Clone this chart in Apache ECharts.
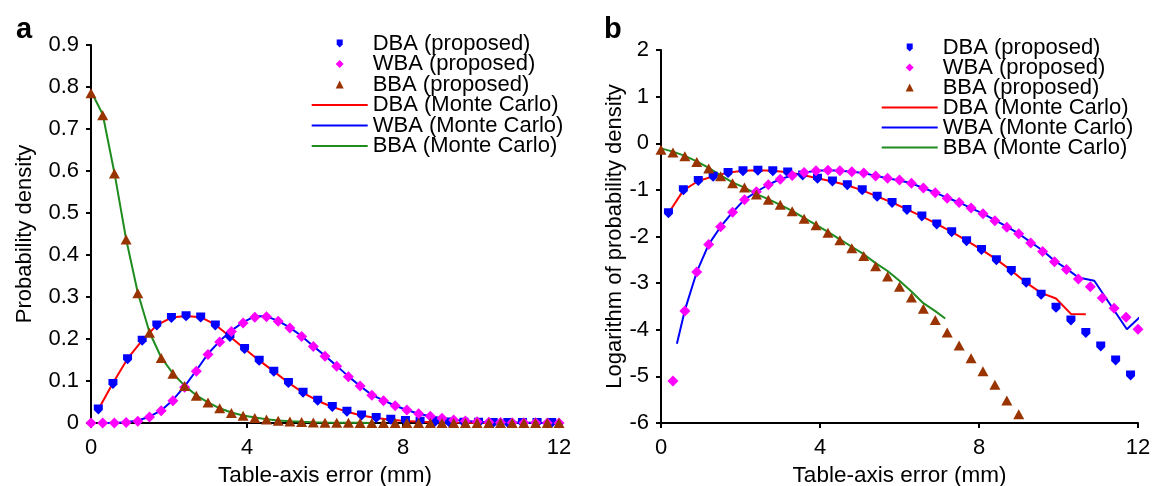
<!DOCTYPE html>
<html>
<head>
<meta charset="utf-8">
<script src="https://cdn.jsdelivr.net/npm/echarts@6/dist/echarts.min.js"></script>
<style>
  html, body { margin: 0; padding: 0; background: #fff; }
  #chart { width: 1156px; height: 486px; }
</style>
</head>
<body>
<div id="chart"></div>
<script>
// Table-axis error (mm): bin centres for DBA, 0.3 mm grid for WBA/BBA
const dbaX = [0.1875, 0.5625, 0.9375, 1.3125, 1.6875, 2.0625, 2.4375, 2.8125, 3.1875, 3.5625,
  3.9375, 4.3125, 4.6875, 5.0625, 5.4375, 5.8125, 6.1875, 6.5625, 6.9375, 7.3125,
  7.6875, 8.0625, 8.4375, 8.8125, 9.1875, 9.5625, 9.9375, 10.3125, 10.6875, 11.0625,
  11.4375, 11.8125];
const gridX = [0, 0.3, 0.6, 0.9, 1.2, 1.5, 1.8, 2.1, 2.4, 2.7, 3.0, 3.3, 3.6, 3.9, 4.2, 4.5,
  4.8, 5.1, 5.4, 5.7, 6.0, 6.3, 6.6, 6.9, 7.2, 7.5, 7.8, 8.1, 8.4, 8.7, 9.0, 9.3, 9.6,
  9.9, 10.2, 10.5, 10.8, 11.1, 11.4, 11.7, 12.0];

// (a) probability density, proposed model
const dbaDensity = [0.032, 0.093, 0.152, 0.196, 0.232, 0.250, 0.254, 0.251, 0.232, 0.205,
  0.176, 0.148, 0.122, 0.095, 0.072, 0.053, 0.038, 0.027, 0.018, 0.012,
  0.008, 0.005, 0.003, 0.002, 0.001, 0.0006, 0.0003, 0.0002, 0.0001, 0, 0, 0];
const wbaDensity = [0, 0, 0, 0.001, 0.004, 0.014, 0.029, 0.053, 0.085, 0.123, 0.163, 0.193,
  0.218, 0.238, 0.252, 0.253, 0.242, 0.226, 0.206, 0.182, 0.159, 0.135, 0.110, 0.088,
  0.066, 0.053, 0.041, 0.031, 0.022, 0.016, 0.0115, 0.0072, 0.0048, 0.0029, 0.0019,
  0.0012, 0.0008, 0.0005, 0.0003, 0.0002, 0.0001];
const bbaDensity = [0.785, 0.733, 0.594, 0.437, 0.309, 0.215, 0.155, 0.117, 0.088, 0.065,
  0.049, 0.035, 0.024, 0.017, 0.012, 0.0083, 0.0056, 0.0038, 0.0023, 0.0014, 0.0008,
  0.0005, 0.0003, 0.0002, 0.0001, 0, 0, 0, 0, 0, 0, 0, 0, 0, 0, 0, 0, 0, 0, 0, 0];

// (b) log10 of probability density, proposed model
const dbaLog = [-1.50, -1.01, -0.81, -0.72, -0.64, -0.60, -0.59, -0.60, -0.63, -0.69,
  -0.76, -0.82, -0.90, -1.01, -1.15, -1.28, -1.43, -1.57, -1.74, -1.91,
  -2.10, -2.29, -2.51, -2.74, -2.99, -3.25, -3.53, -3.80, -4.07, -4.36, -4.66, -4.98];
const wbaLog = [null, -5.10, -3.60, -2.76, -2.17, -1.79, -1.48, -1.21, -1.04, -0.89, -0.77,
  -0.69, -0.63, -0.59, -0.58, -0.59, -0.61, -0.64, -0.70, -0.75, -0.79, -0.86, -0.96,
  -1.06, -1.18, -1.27, -1.39, -1.51, -1.66, -1.80, -1.94, -2.14, -2.32, -2.54, -2.71,
  -2.91, -3.08, -3.32, -3.54, -3.73, -3.99];
const bbaLog = [-0.14, -0.20, -0.28, -0.40, -0.54, -0.71, -0.86, -0.95, -1.10, -1.21,
  -1.32, -1.46, -1.62, -1.76, -1.92, -2.08, -2.25, -2.42, -2.64, -2.86, -3.08, -3.31,
  -3.55, -3.79, -4.06, -4.34, -4.61, -4.89, -5.18, -5.52, -5.81];

// Monte Carlo curves
const mcDbaX = [0.1875, 0.5625, 0.9375, 1.3125, 1.6875, 2.0625, 2.4375, 2.8125, 3.1875, 3.5625,
  3.9375, 4.3125, 4.6875, 5.0625, 5.4375, 5.8125, 6.1875, 6.5625, 6.9375, 7.3125,
  7.6875, 8.0625, 8.4375, 8.8125, 9.1875, 9.5625, 9.9375, 10.3125, 10.6875];
const mcDbaDensity = [0.032, 0.095, 0.153, 0.197, 0.233, 0.251, 0.255, 0.252, 0.234, 0.206,
  0.177, 0.149, 0.123, 0.096, 0.072, 0.053, 0.038, 0.027, 0.018, 0.012,
  0.008, 0.005, 0.003, 0.002, 0.001, 0.0006, 0.0005, 0.0002, 0.0002];
const mcDbaLog = [-1.50, -1.01, -0.81, -0.71, -0.63, -0.59, -0.58, -0.59, -0.62, -0.68,
  -0.75, -0.82, -0.90, -1.01, -1.14, -1.27, -1.42, -1.57, -1.73, -1.90,
  -2.09, -2.28, -2.49, -2.73, -2.99, -3.21, -3.33, -3.66, -3.67];

const mcWbaX = [0.4, 0.6, 0.9, 1.2, 1.5, 1.8, 2.1, 2.4, 2.7, 3.0, 3.3, 3.6, 3.9, 4.2, 4.5,
  4.8, 5.1, 5.4, 5.7, 6.0, 6.3, 6.6, 6.9, 7.2, 7.5, 7.8, 8.1, 8.4, 8.7, 9.0, 9.3, 9.6,
  9.9, 10.2, 10.5, 10.9, 11.72, 12.08];
const mcWbaDensity = [0.0001, 0.0003, 0.002, 0.006, 0.015, 0.030, 0.055, 0.087, 0.125, 0.165,
  0.195, 0.220, 0.240, 0.254, 0.254, 0.243, 0.227, 0.207, 0.183, 0.160, 0.136, 0.111,
  0.088, 0.067, 0.054, 0.041, 0.031, 0.022, 0.016, 0.0115, 0.0076, 0.005, 0.003, 0.002,
  0.0013, 0.0011, 0.0001, 0.0002];
const mcWbaLog = [-4.30, -3.58, -2.76, -2.17, -1.79, -1.48, -1.21, -1.04, -0.89, -0.77,
  -0.69, -0.63, -0.59, -0.58, -0.59, -0.61, -0.64, -0.70, -0.75, -0.80, -0.86, -0.96,
  -1.06, -1.17, -1.27, -1.39, -1.51, -1.65, -1.79, -1.94, -2.12, -2.30, -2.52, -2.69,
  -2.88, -2.95, -3.99, -3.70];

const mcBbaX = [0, 0.3, 0.6, 0.9, 1.2, 1.5, 1.8, 2.1, 2.4, 2.7, 3.0, 3.3, 3.6, 3.9, 4.2,
  4.5, 4.8, 5.1, 5.4, 5.7, 6.0, 6.3, 6.6, 6.9, 7.15];
const mcBbaDensity = [0.790, 0.735, 0.596, 0.438, 0.310, 0.216, 0.156, 0.118, 0.089, 0.066,
  0.049, 0.035, 0.025, 0.018, 0.013, 0.0087, 0.006, 0.0042, 0.0027, 0.0018, 0.0011,
  0.0007, 0.0004, 0.0003, 0.0002];
const mcBbaLog = [-0.11, -0.18, -0.27, -0.39, -0.53, -0.69, -0.84, -0.95, -1.09, -1.20,
  -1.32, -1.45, -1.60, -1.75, -1.90, -2.06, -2.22, -2.38, -2.57, -2.74, -2.95, -3.18,
  -3.43, -3.60, -3.76];

const densityTicks = ['0', '0.1', '0.2', '0.3', '0.4', '0.5', '0.6', '0.7', '0.8', '0.9'];
const seriesNames = ['DBA (proposed)', 'WBA (proposed)', 'BBA (proposed)',
  'DBA (Monte Carlo)', 'WBA (Monte Carlo)', 'BBA (Monte Carlo)'];

const FONT = 'Liberation Sans, Arial, sans-serif';
const BLUE = '#0000ff', PINK = '#ff00ff', BROWN = '#993300';
const RED = '#ff0000', GREEN = '#1e8c1e';
const SHIELD = 'path://M0,0L8,0L8,5L4,9L0,5Z';

function pairs(xs, ys) {
  const out = [];
  for (let i = 0; i < ys.length; i++) {
    if (ys[i] !== null && ys[i] !== undefined) out.push([xs[i], ys[i]]);
  }
  return out;
}

function xAxisFor(gi) {
  return {
    gridIndex: gi, type: 'value', min: 0, max: 12, interval: 4,
    name: 'Table-axis error (mm)', nameLocation: 'middle', nameGap: 38,
    nameTextStyle: { fontFamily: FONT, fontSize: 22.5, color: '#000' },
    axisLine: { onZero: false, lineStyle: { color: '#000', width: 2 } },
    axisTick: { show: true, length: 5, lineStyle: { color: '#000', width: 2 } },
    axisLabel: { fontFamily: FONT, fontSize: 22, color: '#000', margin: 14 },
    splitLine: { show: false }
  };
}

function yAxisFor(gi, min, max, interval, name, gap, fmt) {
  return {
    gridIndex: gi, type: 'value', min: min, max: max, interval: interval,
    name: name, nameLocation: 'middle', nameGap: gap,
    nameTextStyle: { fontFamily: FONT, fontSize: 22, color: '#000' },
    axisLine: { show: true, onZero: false, lineStyle: { color: '#000', width: 2 } },
    axisTick: { show: true, length: 5, lineStyle: { color: '#000', width: 2 } },
    axisLabel: { fontFamily: FONT, fontSize: 22, color: '#000', margin: 12, formatter: fmt },
    splitLine: { show: false }
  };
}

function scatter(name, gi, data, symbol, size, color) {
  return {
    name: name, type: 'scatter', xAxisIndex: gi, yAxisIndex: gi, data: data,
    symbol: symbol, symbolSize: size, itemStyle: { color: color, opacity: 1 },
    z: 3, silent: true
  };
}

function line(name, gi, data, color) {
  return {
    name: name, type: 'line', xAxisIndex: gi, yAxisIndex: gi, data: data,
    symbol: 'none', showSymbol: false, clip: false, smooth: false,
    lineStyle: { color: color, width: 2 }, itemStyle: { color: color },
    z: 2, silent: true
  };
}

// legend glyphs: small markers and a plain stroke inside a 56x20 box
const legendIcons = [
  'path://M0,0M56,20M25,6L31,6L31,11L28,14L25,11Z',
  'path://M0,0M56,20M28,6L32,10L28,14L24,10Z',
  'path://M0,0M56,20M28,6L32,14L24,14Z',
  'path://M0,0M56,20M0,9L56,9L56,11L0,11Z',
  'path://M0,0M56,20M0,9L56,9L56,11L0,11Z',
  'path://M0,0M56,20M0,9L56,9L56,11L0,11Z'
];

function legendFor(left, top, gap) {
  return {
    orient: 'vertical', left: left, top: top, itemWidth: 56, itemHeight: 20,
    itemGap: gap, padding: 0, selectedMode: false, symbolKeepAspect: false,
    textStyle: { fontFamily: FONT, fontSize: 22, color: '#000', lineHeight: 20 },
    data: seriesNames.map((n, i) => ({ name: n, icon: legendIcons[i] }))
  };
}

const chart = echarts.init(document.getElementById('chart'), null, { renderer: 'canvas' });
chart.setOption({
  animation: false,
  backgroundColor: '#fff',
  grid: [
    { left: 91, top: 45, width: 468, height: 378, outerBoundsMode: 'none', containLabel: false },
    { left: 661, top: 50, width: 477, height: 373, outerBoundsMode: 'none', containLabel: false }
  ],
  legend: [legendFor(311.7, 32.5, -1.5), legendFor(881.7, 36.5, -2)],
  xAxis: [xAxisFor(0), xAxisFor(1)],
  yAxis: [
    yAxisFor(0, 0, 0.9, 0.1, 'Probability density', 55,
      v => densityTicks[Math.round(v * 10)]),
    yAxisFor(1, -6, 2, 1, 'Logarithm of probability density', 33, v => String(v))
  ],
  graphic: [
    { type: 'text', x: 16, y: 15, style: { text: 'a', fontFamily: FONT, fontSize: 29, fontWeight: 'bold', fill: '#000' } },
    { type: 'text', x: 604, y: 15, style: { text: 'b', fontFamily: FONT, fontSize: 29, fontWeight: 'bold', fill: '#000' } }
  ],
  series: [
    line(seriesNames[3], 0, pairs(mcDbaX, mcDbaDensity), RED),
    line(seriesNames[4], 0, pairs(mcWbaX, mcWbaDensity), BLUE),
    line(seriesNames[5], 0, pairs(mcBbaX, mcBbaDensity), GREEN),
    scatter(seriesNames[0], 0, pairs(dbaX, dbaDensity), SHIELD, [9, 10], BLUE),
    scatter(seriesNames[1], 0, pairs(gridX, wbaDensity), 'diamond', [11, 11], PINK),
    scatter(seriesNames[2], 0, pairs(gridX, bbaDensity), 'triangle', [11, 10], BROWN),

    line(seriesNames[3], 1, pairs(mcDbaX, mcDbaLog), RED),
    line(seriesNames[4], 1, pairs(mcWbaX, mcWbaLog), BLUE),
    line(seriesNames[5], 1, pairs(mcBbaX, mcBbaLog), GREEN),
    scatter(seriesNames[0], 1, pairs(dbaX, dbaLog), SHIELD, [9, 10], BLUE),
    scatter(seriesNames[1], 1, pairs(gridX, wbaLog), 'diamond', [11, 11], PINK),
    scatter(seriesNames[2], 1, pairs(gridX, bbaLog), 'triangle', [11, 10], BROWN)
  ]
});
</script>
</body>
</html>
